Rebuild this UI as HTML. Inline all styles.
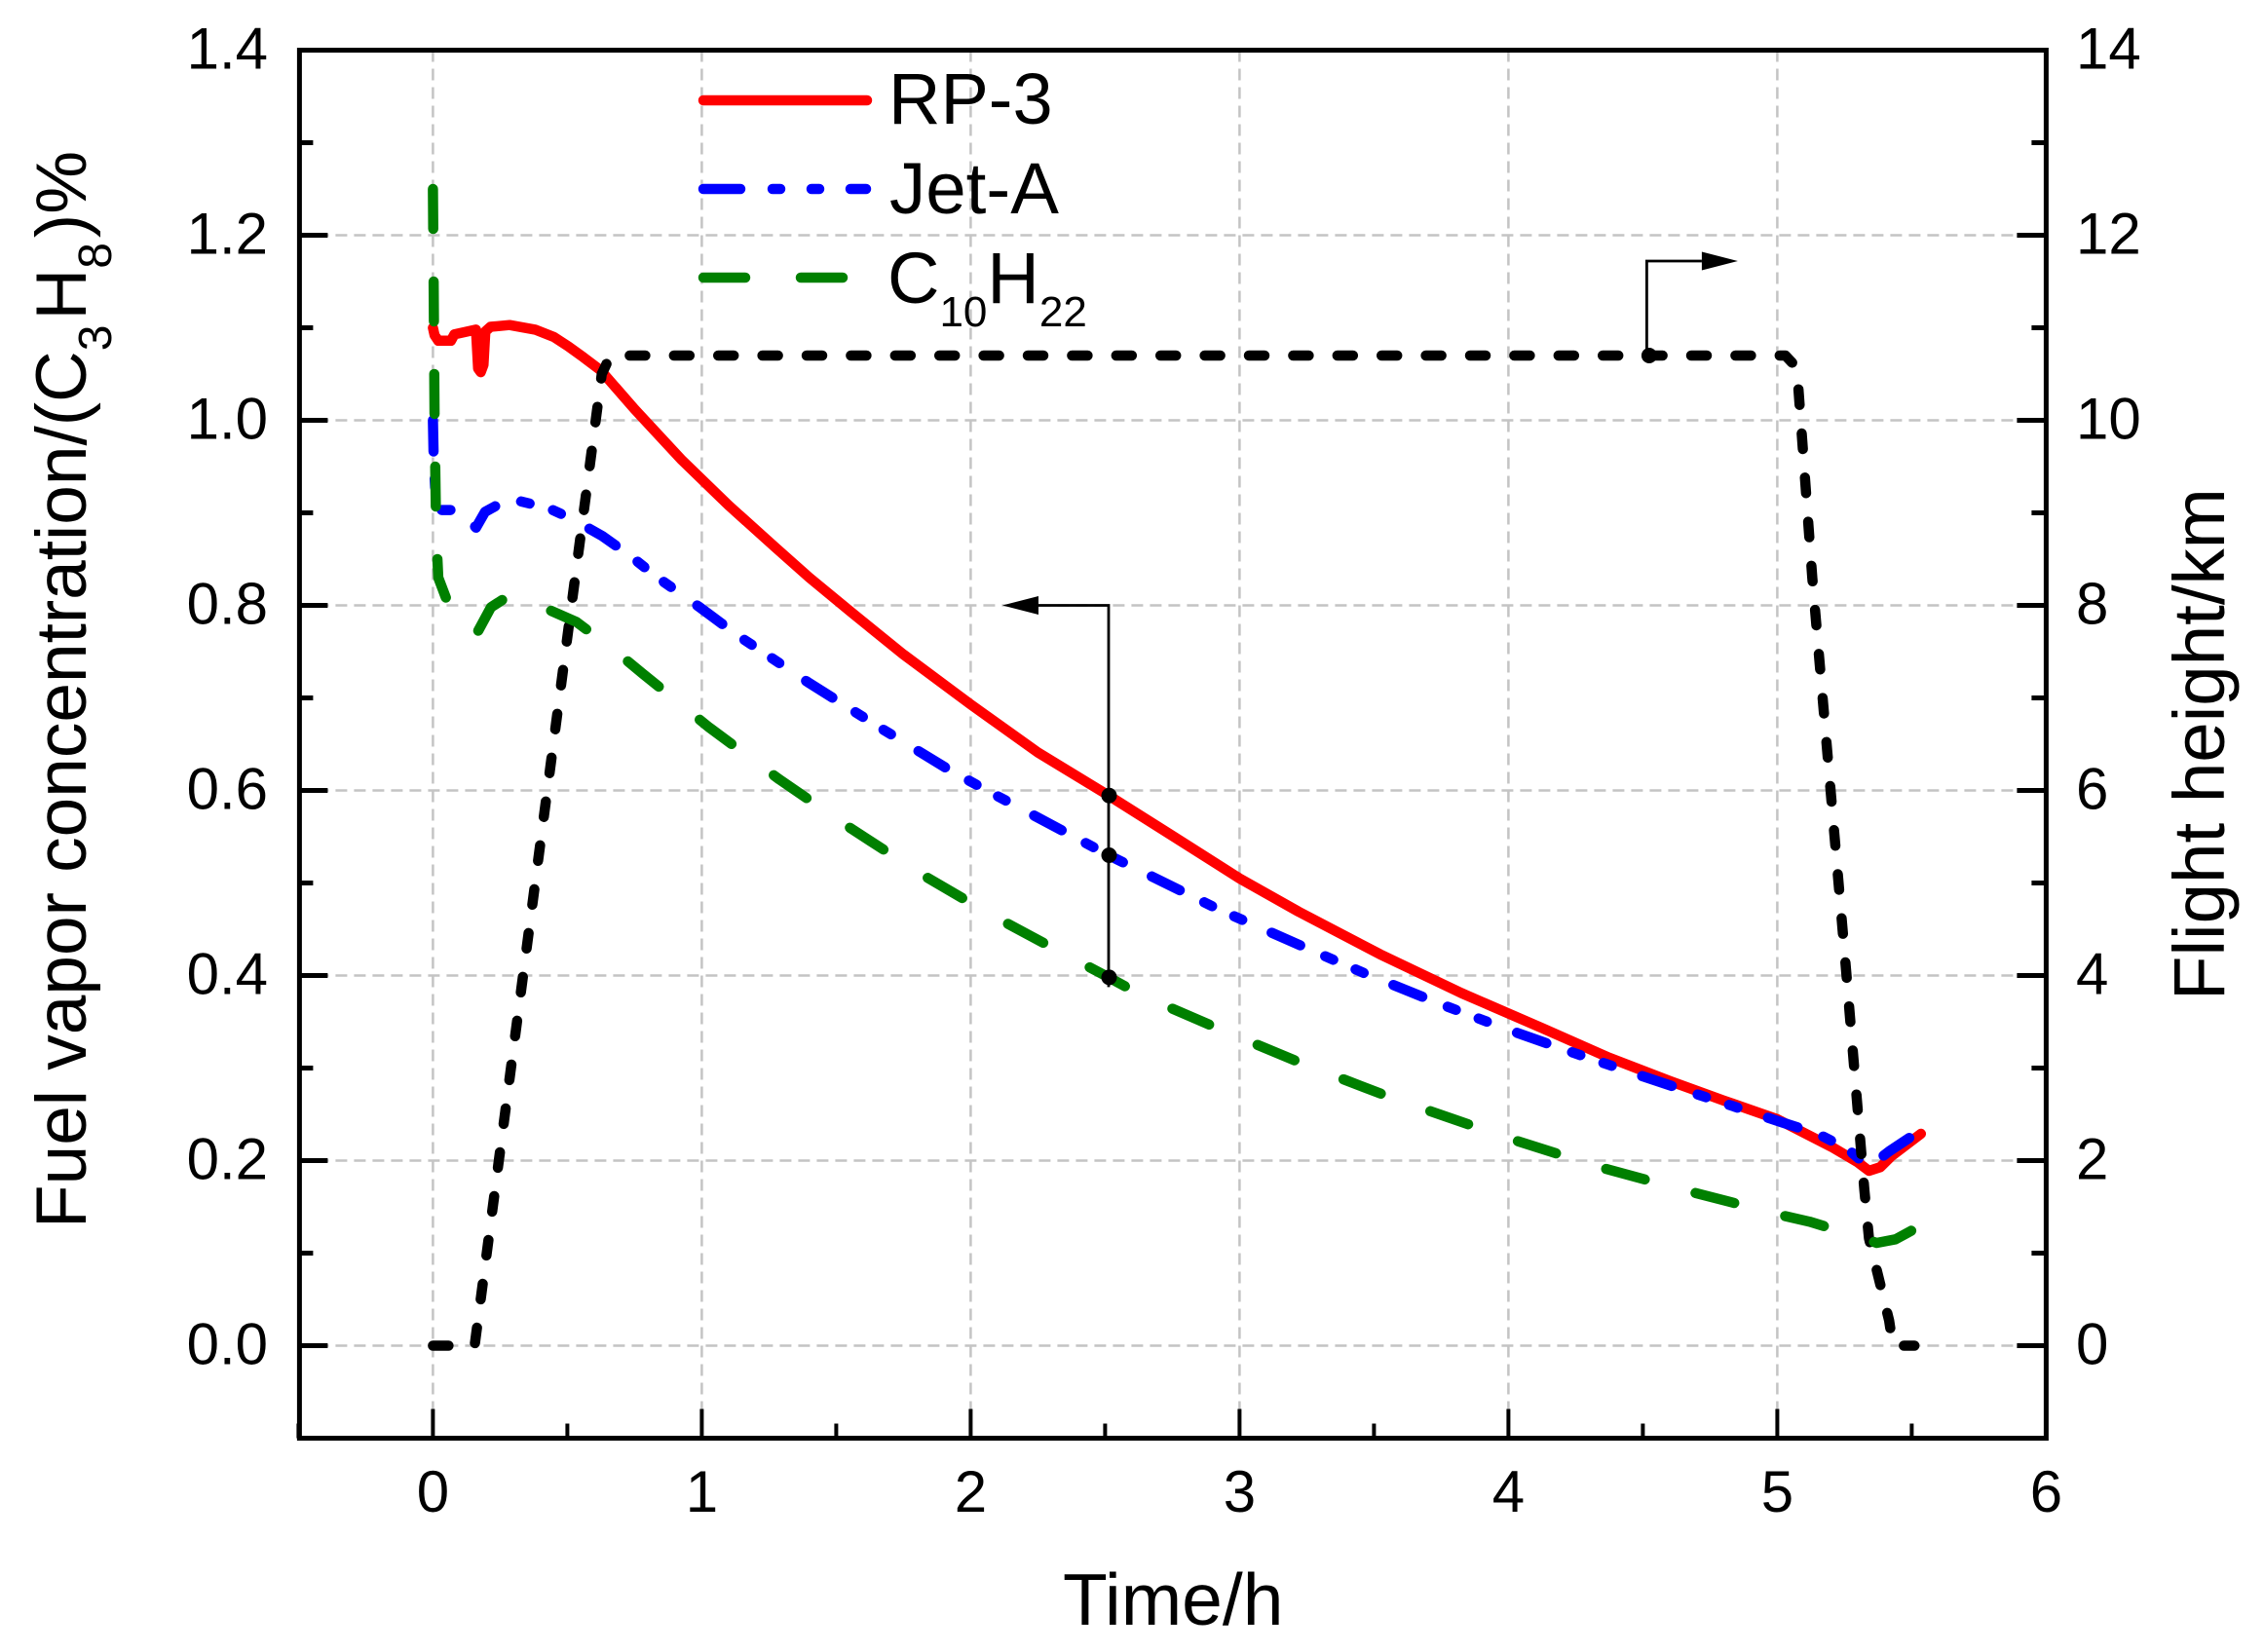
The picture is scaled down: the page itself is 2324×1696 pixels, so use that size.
<!DOCTYPE html>
<html lang="en">
<head>
<meta charset="utf-8">
<title>Fuel vapor concentration and flight height over time</title>
<style>
html,body{margin:0;padding:0;background:#fff;}
svg{display:block;}
text{font-family:"Liberation Sans",Arial,sans-serif;fill:#000;}
</style>
</head>
<body>
<svg id="chart" width="2324" height="1696" viewBox="0 0 2324 1696" xmlns="http://www.w3.org/2000/svg">
  <text x="1091" y="1668" font-size="75">Time/h</text>
  <text transform="translate(88 1261) rotate(-90)" font-size="73">Fuel vapor concentration/(C<tspan font-size="48" dy="26">3</tspan><tspan dy="-26" dx="5">H</tspan><tspan font-size="48" dy="26">8</tspan><tspan dy="-26" dx="5">)%</tspan></text>
  <text transform="translate(2283 1027) rotate(-90)" font-size="74.5">Flight height/km</text>
  <g id="grid"></g>
  <g id="series"></g>
  <g id="annotations"></g>
  <g id="axes"></g>
  <g>
    <line x1="722" y1="103" x2="890" y2="103" stroke="#ff0000" stroke-width="10.5" stroke-linecap="round"/>
    <text x="912" y="127" font-size="74">RP-3</text>
    <line x1="722" y1="194" x2="890" y2="194" stroke="#0000ff" stroke-width="10.5" stroke-linecap="round" stroke-dasharray="38 33 8 32 8 32 16 100"/>
    <text x="913" y="219" font-size="74.5">Jet-A</text>
    <line x1="722" y1="285" x2="866" y2="285" stroke="#008000" stroke-width="10.5" stroke-linecap="round" stroke-dasharray="43 57 43 100"/>
    <text x="911" y="311" font-size="74">C<tspan font-size="44" dy="24">10</tspan><tspan dy="-24">H</tspan><tspan font-size="44" dy="24">22</tspan></text>
  </g>
</svg>
<script>
// ---------- chart data ----------
const leftTickLabels = ["0.0", "0.2", "0.4", "0.6", "0.8", "1.0", "1.2", "1.4"];
const rightTickLabels = ["0", "2", "4", "6", "8", "10", "12", "14"];
const xTickLabels = ["0", "1", "2", "3", "4", "5", "6"];

const rp3Time = [0, 0.006, 0.02, 0.067, 0.08, 0.16, 0.168, 0.178, 0.188, 0.195, 0.214, 0.285, 0.38, 0.45, 0.503, 0.56, 0.624, 0.75, 0.926, 1.1, 1.276, 1.4, 1.554, 1.75, 2.0, 2.25, 2.513, 2.75, 3.0, 3.22, 3.523, 3.825, 4.127, 4.368, 4.6, 4.8, 5, 5.207, 5.3, 5.341, 5.383, 5.425, 5.534];
const rp3Values = [1.1, 1.092, 1.086, 1.086, 1.093, 1.098, 1.056, 1.052, 1.06, 1.096, 1.101, 1.103, 1.098, 1.09, 1.08, 1.068, 1.054, 1.012, 0.957, 0.908, 0.862, 0.83, 0.793, 0.747, 0.693, 0.641, 0.5945, 0.551, 0.505, 0.469, 0.423, 0.381, 0.343, 0.312, 0.286, 0.265, 0.2447, 0.214, 0.198, 0.189, 0.193, 0.205, 0.229];

const jetATime = [0, 0.003, 0.01, 0.03, 0.104, 0.16, 0.194, 0.25, 0.304, 0.431, 0.52, 0.63, 0.727, 0.836, 0.987, 1.131, 1.395, 1.662, 1.916, 2.06, 2.513, 2.925, 3.027, 3.293, 3.468, 3.74, 3.994, 4.247, 4.48, 4.906, 5.02, 5.15, 5.26, 5.34, 5.416, 5.525];
const jetAValues = [1.0, 0.957, 0.917, 0.903, 0.903, 0.884, 0.901, 0.91, 0.914, 0.905, 0.893, 0.875, 0.855, 0.83, 0.799, 0.768, 0.717, 0.668, 0.623, 0.6, 0.53, 0.471, 0.458, 0.424, 0.402, 0.37, 0.342, 0.316, 0.293, 0.252, 0.241, 0.229, 0.213, 0.193, 0.21, 0.231];

const decaneTime = [0, 0.003, 0.006, 0.012, 0.02, 0.068, 0.162, 0.216, 0.28, 0.394, 0.534, 0.673, 0.781, 1.028, 1.288, 1.554, 1.82, 2.067, 2.285, 2.513, 2.64, 2.919, 3.233, 3.564, 3.872, 4.024, 4.338, 4.655, 4.83, 4.97, 5.12, 5.255, 5.37, 5.44, 5.535];
const decaneValues = [1.25, 1.14, 1.0, 0.88, 0.83, 0.793, 0.769, 0.798, 0.81, 0.8, 0.782, 0.752, 0.726, 0.668, 0.612, 0.559, 0.509, 0.467, 0.433, 0.398, 0.378, 0.343, 0.305, 0.268, 0.237, 0.222, 0.193, 0.168, 0.155, 0.144, 0.134, 0.122, 0.111, 0.115, 0.13];

const heightTime = [0, 0.155, 0.628, 0.66, 5.03, 5.073, 5.13, 5.257, 5.324, 5.341, 5.416, 5.43, 5.51];
const heightValues = [0, 0, 10.5, 10.7, 10.7, 10.57, 8.3, 4.02, 1.68, 1.16, 0.27, 0, 0];

const leftArrowTime = 2.513;
const leftArrowMarkers = [0.5945, 0.53, 0.398];
const rightArrowTime = 4.52;
const rightArrowHeight = 10.7;

// ---------- axis functions ----------
const NS = "http://www.w3.org/2000/svg";
function xPos(t) { return 444.4 + t * 276; }
function yLeft(v) { return 1381.5 - v * 950; }
function yRight(h) { return 1381.5 - h * 95; }
const plotLeft = xPos(-0.5), plotRight = xPos(6), plotTop = yLeft(1.4), plotBottom = yLeft(-0.1);

function make(parent, tag, attrs) {
  const node = document.createElementNS(NS, tag);
  for (const k in attrs) node.setAttribute(k, attrs[k]);
  parent.appendChild(node);
  return node;
}
function pathFrom(times, values, yFn) {
  return times.map(function (t, i) { return (i ? "L" : "M") + xPos(t).toFixed(1) + " " + yFn(values[i]).toFixed(1); }).join(" ");
}

// ---------- gridlines ----------
const gridG = document.getElementById("grid");
leftTickLabels.slice(0, 7).forEach(function (lab) {
  const line = make(gridG, "line", { x1: plotLeft, x2: plotRight, y1: yLeft(+lab), y2: yLeft(+lab), stroke: "#c4c4c4", "stroke-width": 2.5, "stroke-dasharray": "12 7" });
  
  
});
xTickLabels.slice(0, 6).forEach(function (lab) {
  const line = make(gridG, "line", { x1: xPos(+lab), x2: xPos(+lab), y1: plotTop, y2: plotBottom, stroke: "#c4c4c4", "stroke-width": 2.5, "stroke-dasharray": "12 7" });
  
  
});

// ---------- series ----------
const seriesG = document.getElementById("series");
const common = { fill: "none", "stroke-width": 10.5, "stroke-linecap": "round", "stroke-linejoin": "round" };

const rp3Line = make(seriesG, "path", Object.assign({ d: pathFrom(rp3Time, rp3Values, yLeft), stroke: "#ff0000" }, common));



const jetALine = make(seriesG, "path", Object.assign({ d: pathFrom(jetATime, jetAValues, yLeft), stroke: "#0000ff", "stroke-dasharray": "32 28 9 25 9 33" }, common));



const heightLine = make(seriesG, "path", Object.assign({ d: pathFrom(heightTime, heightValues, yRight), stroke: "#000000", "stroke-dasharray": "16 29.4" }, common));



const decaneLine = make(seriesG, "path", Object.assign({ d: pathFrom(decaneTime, decaneValues, yLeft), stroke: "#008000", "stroke-dasharray": "41 54" }, common));



// ---------- annotations ----------
const annG = document.getElementById("annotations");
const arrowLeftX = xPos(leftArrowTime);
const leftArrowY = yLeft(0.8);
const leftArrowLine = make(annG, "path", { d: "M" + arrowLeftX + " " + (yLeft(Math.min.apply(null, leftArrowMarkers)) + 10) + " V" + leftArrowY + " H" + (arrowLeftX - 72), fill: "none", stroke: "#000", "stroke-width": 2.8 });


const leftHead = make(annG, "polygon", { points: (arrowLeftX - 72) + "," + (leftArrowY - 9.5) + " " + (arrowLeftX - 109) + "," + leftArrowY + " " + (arrowLeftX - 72) + "," + (leftArrowY + 9.5), fill: "#000" });


leftArrowMarkers.forEach(function (v) {
  const dot = make(annG, "circle", { cx: arrowLeftX + 0.5, cy: yLeft(v), r: 8, fill: "#000" });
  
  
});
const arrowRightX = xPos(rightArrowTime);
const rightDotY = yRight(rightArrowHeight);
const rightArrowLine = make(annG, "path", { d: "M" + (arrowRightX - 1.5) + " " + rightDotY + " V" + (rightDotY - 97) + " H" + (arrowRightX + 55), fill: "none", stroke: "#000", "stroke-width": 2.8 });


const rightHead = make(annG, "polygon", { points: (arrowRightX + 55) + "," + (rightDotY - 106.5) + " " + (arrowRightX + 92) + "," + (rightDotY - 97) + " " + (arrowRightX + 55) + "," + (rightDotY - 87.5), fill: "#000" });


const rightDot = make(annG, "circle", { cx: arrowRightX + 1, cy: rightDotY, r: 8, fill: "#000" });



// ---------- axes, ticks, labels ----------
const axesG = document.getElementById("axes");
const frame = make(axesG, "rect", { x: plotLeft + 1, y: plotTop, width: plotRight - plotLeft - 1, height: plotBottom - plotTop, fill: "none", stroke: "#000", "stroke-width": 5 });



leftTickLabels.forEach(function (lab, i) {
  const v = +lab;
  const y = yLeft(v);
  const tickL = make(axesG, "line", { x1: plotLeft, x2: plotLeft + 30, y1: y, y2: y, stroke: "#000", "stroke-width": 5 });
  
  
  const minorY = yLeft(v - 0.1);
  const minorL = make(axesG, "line", { x1: plotLeft, x2: plotLeft + 15, y1: minorY, y2: minorY, stroke: "#000", "stroke-width": 5 });
  
  
  const labelL = make(axesG, "text", { x: 275, y: y + 19, "text-anchor": "end", "font-size": 60 });
  labelL.textContent = lab;
  
  
  const yr = yRight(+rightTickLabels[i]);
  const tickR = make(axesG, "line", { x1: plotRight - 30, x2: plotRight, y1: yr, y2: yr, stroke: "#000", "stroke-width": 5 });
  
  
  const minorRY = yRight(+rightTickLabels[i] - 1);
  const minorR = make(axesG, "line", { x1: plotRight - 15, x2: plotRight, y1: minorRY, y2: minorRY, stroke: "#000", "stroke-width": 5 });
  
  
  const labelR = make(axesG, "text", { x: 2131, y: yr + 19, "font-size": 60 });
  labelR.textContent = rightTickLabels[i];
  
  
});

xTickLabels.forEach(function (lab) {
  const t = +lab;
  const x = xPos(t);
  const tick = make(axesG, "line", { x1: x, x2: x, y1: plotBottom, y2: plotBottom - 30, stroke: "#000", "stroke-width": 4 });
  
  
  const minorX = xPos(t - 0.5);
  const minor = make(axesG, "line", { x1: minorX, x2: minorX, y1: plotBottom, y2: plotBottom - 15, stroke: "#000", "stroke-width": 4 });
  
  
  const label = make(axesG, "text", { x: x, y: 1552, "text-anchor": "middle", "font-size": 60 });
  label.textContent = lab;
  
  
});
</script>
</body>
</html>
